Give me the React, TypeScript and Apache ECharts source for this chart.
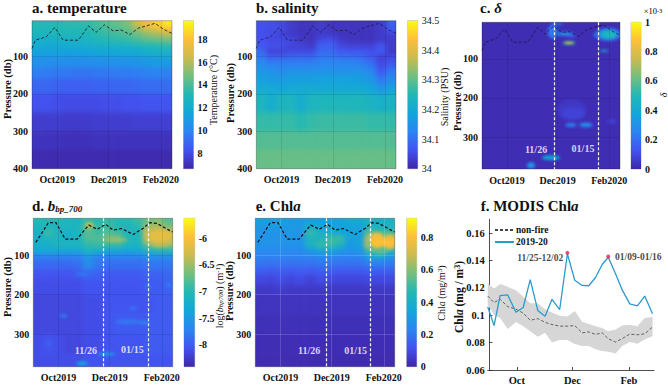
import React, { useEffect, useRef } from "react";
import * as echarts from "echarts";

const FONT = '"Liberation Serif", serif';
const days = [30, 91, 153];
const dayLabels = ["Oct2019", "Dec2019", "Feb2020"];
const fLabels = ["Oct", "Dec", "Feb"];
const pressureTicks = [100, 200, 300, 400];
const pressureTicksShort = [100, 200, 300];

const columnEdges = [0, 11.9, 23.7, 35.6, 47.4, 59.3, 71.1, 83, 94.9, 106.7, 118.6, 130.4, 142.3, 154.1, 166];

// mixed-layer depth (day since 1 Sep, pressure)
const mldDaysTop = [0, 4, 17, 27, 37, 55, 67, 76, 86, 96, 106, 116, 126, 146, 156, 166];
const mldTop = [79, 57, 48, 23, 57, 57, 19, 36, 16, 32, 30, 42, 25, 12, 28, 39];
const mldDaysBottom = [3, 10, 18, 27, 38, 52, 66, 76, 86, 95, 105, 119, 131, 139, 147, 166];
const mldBottom = [67, 44, 17, 17, 59, 59, 23, 34, 21, 36, 32, 47, 31, 17, 19, 41];

// a. temperature
const tempDepths = [5, 20, 35, 50, 65, 80, 100, 130, 160, 200, 250, 300, 350, 400];
const tempValues = [
  [13.2, 13.2, 13.2, 13.4, 13.4, 13.5, 13.9, 14.3, 14.6, 15.0, 16.5, 17.8, 18.5, 19.2],
  [13.0, 13.0, 13.1, 13.2, 13.2, 13.2, 13.6, 13.9, 14.1, 14.5, 15.5, 16.5, 17.2, 18.0],
  [12.7, 12.7, 12.8, 12.9, 12.9, 13.0, 13.3, 13.6, 13.9, 14.0, 14.6, 15.2, 15.6, 16.0],
  [12.2, 12.2, 12.3, 12.4, 12.4, 12.5, 12.9, 13.1, 13.3, 13.5, 13.8, 14.2, 14.4, 14.6],
  [11.9, 11.9, 11.9, 12.0, 12.0, 12.1, 12.3, 12.3, 12.4, 12.5, 12.8, 13.0, 13.2, 13.4],
  [11.3, 11.3, 11.3, 11.3, 11.3, 11.4, 11.5, 11.6, 11.7, 11.8, 11.9, 12.1, 12.3, 12.4],
  [10.5, 10.4, 10.4, 10.4, 10.3, 10.4, 10.4, 10.5, 10.5, 10.6, 10.7, 10.9, 11.0, 11.0],
  [9.7, 9.6, 9.5, 9.5, 9.4, 9.4, 9.5, 9.5, 9.6, 9.6, 9.7, 9.8, 9.9, 9.8],
  [8.9, 8.9, 8.8, 8.7, 8.7, 8.7, 8.8, 8.8, 8.9, 8.9, 9.0, 9.1, 9.1, 9.1],
  [8.2, 8.2, 8.1, 8.0, 8.0, 8.0, 8.0, 8.1, 8.1, 8.2, 8.2, 8.3, 8.3, 8.3],
  [7.5, 7.5, 7.5, 7.4, 7.4, 7.4, 7.5, 7.5, 7.5, 7.5, 7.6, 7.6, 7.6, 7.6],
  [7.1, 7.1, 7.1, 7.0, 7.0, 7.0, 7.1, 7.1, 7.1, 7.1, 7.1, 7.1, 7.1, 7.1],
  [6.8, 6.8, 6.8, 6.8, 6.8, 6.8, 6.8, 6.8, 6.8, 6.8, 6.8, 6.8, 6.8, 6.8],
];

// b. salinity
const salDepths = [5, 20, 35, 50, 65, 80, 95, 110, 130, 150, 175, 200, 250, 300, 350, 400];
const salValues = [
  [34.06, 34.055, 34.05, 34.03, 34.02, 34.02, 34.03, 34.02, 34.02, 34.02, 34.02, 34.02, 34.03, 34.08],
  [34.06, 34.055, 34.05, 34.03, 34.02, 34.02, 34.03, 34.02, 34.02, 34.02, 34.02, 34.02, 34.03, 34.07],
  [34.06, 34.05, 34.04, 34.03, 34.02, 34.02, 34.03, 34.03, 34.02, 34.02, 34.02, 34.02, 34.03, 34.04],
  [34.06, 34.05, 34.05, 34.05, 34.03, 34.02, 34.05, 34.06, 34.03, 34.02, 34.02, 34.02, 34.03, 34.03],
  [34.07, 34.06, 34.06, 34.04, 34.04, 34.03, 34.08, 34.08, 34.05, 34.04, 34.04, 34.04, 34.07, 34.03],
  [34.09, 34.04, 34.04, 34.05, 34.05, 34.05, 34.09, 34.09, 34.07, 34.07, 34.07, 34.06, 34.07, 34.03],
  [34.11, 34.08, 34.08, 34.09, 34.09, 34.09, 34.11, 34.11, 34.1, 34.1, 34.09, 34.07, 34.04, 34.05],
  [34.14, 34.12, 34.12, 34.12, 34.12, 34.12, 34.13, 34.13, 34.13, 34.13, 34.12, 34.1, 34.05, 34.07],
  [34.16, 34.15, 34.14, 34.15, 34.15, 34.15, 34.15, 34.15, 34.15, 34.15, 34.15, 34.13, 34.07, 34.11],
  [34.18, 34.17, 34.165, 34.175, 34.175, 34.175, 34.18, 34.18, 34.18, 34.18, 34.175, 34.16, 34.11, 34.14],
  [34.2, 34.2, 34.19, 34.2, 34.2, 34.2, 34.2, 34.2, 34.2, 34.2, 34.2, 34.19, 34.16, 34.18],
  [34.235, 34.21, 34.235, 34.235, 34.21, 34.235, 34.24, 34.24, 34.24, 34.24, 34.24, 34.23, 34.22, 34.23],
  [34.265, 34.265, 34.265, 34.265, 34.255, 34.265, 34.27, 34.27, 34.27, 34.27, 34.27, 34.265, 34.265, 34.265],
  [34.29, 34.29, 34.29, 34.29, 34.29, 34.29, 34.29, 34.29, 34.29, 34.29, 34.29, 34.29, 34.29, 34.29],
  [34.305, 34.305, 34.305, 34.305, 34.305, 34.305, 34.305, 34.305, 34.305, 34.305, 34.305, 34.305, 34.305, 34.305],
];

// c. delta: quiet background and patches [day, pressure, day radius, pressure radius, value]
const deltaBackground = [[0.02]];
const deltaPatches = [
  [108, 231, 18, 28, 0.05],
  [110, 240, 14, 16, 0.08],
  [156, 260, 6, 6, 0.07],
  [85, 30, 6, 17, 0.22],
  [90, 10, 8, 3, 0.22],
  [100, 36, 10, 5, 0.28],
  [108, 42, 6, 3, 0.16],
  [140, 38, 6, 8, 0.2],
  [152, 37, 16, 17, 0.18],
  [152, 37, 11, 13, 0.4],
  [153, 38, 7, 7, 0.5],
  [147, 79, 5, 2.5, 0.42],
  [104.6, 59, 8, 4, 0.5],
  [104.6, 59, 6, 2.2, 1.0],
  [107, 269, 7, 5, 0.25],
  [125, 269, 8, 6, 0.28],
  [83, 353, 11, 6, 0.38],
  [59, 373, 5, 8, 0.32],
];

// d. log backscatter
const bbpDepths = [6, 20, 35, 50, 65, 80, 95, 110, 135, 160, 200, 250, 300, 350, 383];
const bbpValues = [
  [-7.0, -7.0, -7.0, -7.1, -7.1, -6.9, -7.0, -6.9, -7.0, -7.0, -6.9, -6.7, -6.6, -6.8],
  [-7.1, -7.1, -7.1, -7.1, -7.1, -6.6, -6.9, -6.9, -7.0, -7.1, -7.0, -6.5, -6.4, -6.6],
  [-7.2, -6.9, -7.1, -7.2, -7.1, -6.8, -6.9, -6.8, -6.9, -7.1, -7.1, -6.2, -6.2, -6.3],
  [-7.2, -7.1, -7.1, -7.2, -7.1, -6.8, -6.8, -6.6, -6.6, -7.0, -7.1, -6.25, -6.2, -6.2],
  [-7.2, -7.2, -7.1, -7.1, -7.1, -6.95, -6.9, -6.9, -6.9, -7.1, -7.1, -6.7, -6.5, -6.5],
  [-7.3, -7.3, -7.3, -7.3, -7.3, -7.1, -7.2, -7.3, -7.3, -7.3, -7.3, -7.1, -7.0, -7.0],
  [-7.7, -7.7, -7.7, -7.7, -7.7, -7.5, -7.7, -7.7, -7.7, -7.7, -7.7, -7.6, -7.6, -7.6],
  [-7.9, -7.9, -7.9, -7.9, -7.85, -7.6, -7.8, -7.85, -7.85, -7.85, -7.85, -7.8, -7.8, -7.8],
  [-8.05, -8.05, -8.05, -8.05, -8.0, -7.9, -7.95, -8.0, -8.0, -8.0, -8.0, -7.95, -7.95, -7.9],
  [-8.1, -8.1, -8.1, -8.1, -8.1, -8.05, -8.05, -8.05, -8.05, -8.05, -8.05, -8.0, -8.0, -7.95],
  [-8.15, -8.15, -8.15, -8.15, -8.15, -8.1, -8.1, -8.05, -8.05, -8.05, -8.05, -8.05, -8.0, -8.0],
  [-8.15, -8.15, -8.15, -8.15, -8.15, -8.1, -8.1, -8.05, -8.0, -8.0, -8.0, -8.0, -8.0, -8.0],
  [-8.1, -8.05, -8.1, -8.15, -8.15, -8.1, -8.1, -8.05, -8.05, -8.05, -8.05, -8.0, -8.0, -8.0],
  [-8.1, -8.1, -8.1, -8.1, -8.1, -8.05, -8.05, -8.05, -8.05, -8.05, -8.05, -8.05, -8.05, -8.05],
];
const bbpPatches = [
  [151, 55, 17, 24, -6.4],
  [151, 52, 14, 16, -6.15],
  [67, 23, 4, 5, -6.05],
  [99, 61, 14, 4, -6.5],
  [57.6, 148, 7, 4, -7.8],
  [36, 254, 5, 4, -7.75],
  [18, 324, 4, 3, -7.85],
  [113, 269, 15, 6, -7.8],
  [131, 271, 8, 5, -7.75],
  [119, 235, 5, 4, -7.8],
  [137, 180, 5, 4, -7.8],
  [161, 175, 4, 4, -7.7],
  [87, 351, 11, 4, -7.45],
  [58, 375, 7, 6, -7.45],
];

// e. Chla
const chlDepths = [6, 20, 35, 50, 65, 80, 95, 110, 130, 150, 175, 200, 250, 300, 350, 383];
const chlValues = [
  [0.32, 0.33, 0.33, 0.3, 0.3, 0.33, 0.32, 0.33, 0.33, 0.38, 0.38, 0.42, 0.4, 0.42],
  [0.3, 0.3, 0.3, 0.3, 0.3, 0.38, 0.34, 0.34, 0.33, 0.33, 0.33, 0.42, 0.42, 0.42],
  [0.28, 0.28, 0.28, 0.3, 0.28, 0.5, 0.42, 0.4, 0.35, 0.33, 0.33, 0.55, 0.5, 0.5],
  [0.28, 0.28, 0.28, 0.28, 0.28, 0.42, 0.42, 0.5, 0.5, 0.33, 0.33, 0.72, 0.62, 0.7],
  [0.28, 0.28, 0.28, 0.28, 0.28, 0.42, 0.5, 0.5, 0.45, 0.3, 0.33, 0.78, 0.74, 0.76],
  [0.25, 0.25, 0.25, 0.25, 0.25, 0.3, 0.35, 0.35, 0.3, 0.28, 0.3, 0.5, 0.55, 0.45],
  [0.23, 0.23, 0.23, 0.23, 0.23, 0.24, 0.25, 0.25, 0.24, 0.23, 0.24, 0.35, 0.4, 0.3],
  [0.2, 0.19, 0.19, 0.19, 0.19, 0.19, 0.2, 0.2, 0.19, 0.19, 0.19, 0.22, 0.23, 0.21],
  [0.14, 0.13, 0.14, 0.13, 0.14, 0.13, 0.14, 0.14, 0.13, 0.13, 0.13, 0.14, 0.14, 0.14],
  [0.09, 0.08, 0.1, 0.08, 0.1, 0.07, 0.1, 0.09, 0.08, 0.08, 0.08, 0.09, 0.09, 0.09],
  [0.05, 0.05, 0.06, 0.05, 0.05, 0.05, 0.05, 0.05, 0.05, 0.05, 0.05, 0.05, 0.05, 0.05],
  [0.035, 0.035, 0.035, 0.035, 0.035, 0.035, 0.035, 0.035, 0.035, 0.035, 0.035, 0.035, 0.035, 0.035],
  [0.025, 0.025, 0.025, 0.025, 0.025, 0.025, 0.025, 0.025, 0.025, 0.025, 0.025, 0.025, 0.025, 0.025],
  [0.02, 0.02, 0.02, 0.02, 0.02, 0.02, 0.02, 0.02, 0.02, 0.02, 0.02, 0.02, 0.02, 0.02],
  [0.015, 0.015, 0.015, 0.015, 0.015, 0.015, 0.015, 0.015, 0.015, 0.015, 0.015, 0.015, 0.015, 0.015],
];
const chlPatches = [
  [150, 68, 17, 26, 0.55],
  [145, 62, 9, 20, 0.78],
  [160, 66, 8, 18, 0.76],
  [152, 68, 15, 9, 0.8],
];

// f. MODIS Chla
const fireDays = [-2, 5, 11.6, 20, 29, 37, 44.7, 53, 61, 68.6, 77, 85.5, 93.6, 101.7, 109, 116.4, 123.7, 130.4, 138.4, 145.8, 154, 162.3, 170.4, 179];
const fire = [0.1062, 0.0924, 0.1143, 0.1148, 0.1022, 0.1056, 0.126, 0.1035, 0.0992, 0.1116, 0.104, 0.1448, 0.1255, 0.1217, 0.1215, 0.1275, 0.137, 0.1423, 0.1303, 0.1183, 0.1083, 0.1068, 0.114, 0.101];
const nonFire = [0.114, 0.1092, 0.1116, 0.1063, 0.1044, 0.1015, 0.0963, 0.0975, 0.0948, 0.0932, 0.092, 0.092, 0.0924, 0.0871, 0.0878, 0.086, 0.0871, 0.0828, 0.0804, 0.083, 0.0862, 0.0857, 0.0864, 0.0914];
const bandUpper = [0.1231, 0.1195, 0.1227, 0.1207, 0.1183, 0.1135, 0.1087, 0.1087, 0.1044, 0.102, 0.0996, 0.0991, 0.103, 0.0953, 0.0936, 0.092, 0.0907, 0.0883, 0.0895, 0.0924, 0.0931, 0.092, 0.0979, 0.0987];
const bandLower = [0.1075, 0.1003, 0.0979, 0.09, 0.0951, 0.092, 0.0883, 0.0842, 0.0871, 0.08, 0.0819, 0.0819, 0.079, 0.0776, 0.0776, 0.0751, 0.0739, 0.0734, 0.072, 0.0776, 0.0804, 0.0792, 0.0823, 0.0847];
const peaks = [[85.5, 0.1455], [130.4, 0.1428]];
const peakLabels = [[55.7, 0.1416, "11/25-12/02"], [163.4, 0.1428, "01/09-01/16"]];
const fTicks = [0.06, 0.08, 0.1, 0.12, 0.14, 0.16];

const parula = ["#3e26a8", "#4352f0", "#2c84f2", "#12a6da", "#20b8b5", "#71bf80", "#cbbb4f", "#fdbf38", "#f9fb14"];

function hex(c: string) {
  return [1, 3, 5].map((i) => parseInt(c.slice(i, i + 2), 16));
}
function colorOf(t: number) {
  const u = Math.max(0, Math.min(0.9999, t)) * (parula.length - 1);
  const i = Math.floor(u);
  const f = u - i;
  const a = hex(parula[i]);
  const b = hex(parula[i + 1]);
  return `rgb(${a.map((v, k) => Math.round(v + (b[k] - v) * f)).join(",")})`;
}

const plots = [
  { left: 32, top: 20.7, width: 140, height: 148 },
  { left: 256.3, top: 20.7, width: 139.7, height: 148 },
  { left: 482, top: 22.3, width: 138, height: 146.7 },
  { left: 33.3, top: 218.3, width: 139.4, height: 148.4 },
  { left: 255.3, top: 218.3, width: 139.4, height: 148.4 },
];
const plotF = { left: 487.7, top: 219.3, width: 166.3, height: 151.7 };
const bars = [
  { left: 183.5, top: 20.7, width: 10, height: 148 },
  { left: 407.7, top: 20.7, width: 10, height: 148 },
  { left: 631, top: 22.3, width: 10, height: 146.7 },
  { left: 184, top: 218.3, width: 10.7, height: 148.4 },
  { left: 406.7, top: 218.3, width: 10, height: 148.4 },
];
const panels = [
  { yMin: 5, yMax: 400, vMin: 6.62, vMax: 19.64, ticks: [8, 10, 12, 14, 16, 18], ySet: pressureTicks, barWeight: "bold" },
  { yMin: 5, yMax: 400, vMin: 34, vMax: 34.5, ticks: [34, 34.1, 34.2, 34.3, 34.4, 34.5], ySet: pressureTicks, barWeight: "normal" },
  { yMin: 6, yMax: 382, vMin: 0, vMax: 1, ticks: [0, 0.2, 0.4, 0.6, 0.8, 1], ySet: pressureTicksShort, barWeight: "bold" },
  { yMin: 6, yMax: 383, vMin: -8.41, vMax: -5.625, ticks: [-8, -7.5, -7, -6.5, -6], ySet: pressureTicksShort, barWeight: "bold" },
  { yMin: 6, yMax: 383, vMin: 0, vMax: 0.92, ticks: [0, 0.2, 0.4, 0.6, 0.8], ySet: pressureTicksShort, barWeight: "bold" },
];
const fields: any[] = [
  { xs: columnEdges, ys: tempDepths, vals: tempValues },
  { xs: columnEdges, ys: salDepths, vals: salValues },
  { xs: [0, 166], ys: [6, 382], vals: deltaBackground },
  { xs: columnEdges, ys: bbpDepths, vals: bbpValues },
  { xs: columnEdges, ys: chlDepths, vals: chlValues },
];
const patchSets: any[] = [[], [], deltaPatches, bbpPatches, chlPatches];

function cells(f: any) {
  const out: number[][] = [];
  const n = f.xs.length - 1;
  const m = f.ys.length - 1;
  for (let r = 0; r < m; r++) {
    for (let c = 0; c < n; c++) {
      out.push([
        c === 0 ? f.xs[0] - 15 : f.xs[c],
        c === n - 1 ? f.xs[n] + 15 : f.xs[c + 1],
        r === 0 ? f.ys[0] - 40 : f.ys[r],
        r === m - 1 ? f.ys[m] + 40 : f.ys[r + 1],
        f.vals[r][c],
      ]);
    }
  }
  return out;
}

function layerBase() {
  return {
    animation: false,
    grid: plots.map((p) => ({ ...p, show: false })),
    xAxis: plots.map((_, i) => ({ type: "value", gridIndex: i, min: 0, max: 166, show: false })),
    yAxis: panels.map((p, i) => ({ type: "value", gridIndex: i, min: p.yMin, max: p.yMax, inverse: true, show: false })),
  };
}

function heatOption() {
  return {
    ...layerBase(),
    series: panels.map((p, i) => ({
      type: "custom",
      xAxisIndex: i,
      yAxisIndex: i,
      silent: true,
      clip: false,
      encode: { x: [0, 1], y: [2, 3] },
      data: cells(fields[i]),
      renderItem: (_: any, api: any) => {
        const a = api.coord([api.value(0), api.value(2)]);
        const b = api.coord([api.value(1), api.value(3)]);
        return {
          type: "rect",
          shape: { x: a[0], y: a[1], width: b[0] - a[0] + 0.6, height: b[1] - a[1] + 0.6 },
          style: { fill: colorOf((api.value(4) - p.vMin) / (p.vMax - p.vMin)) },
        };
      },
    })),
  };
}

function patchOption() {
  return {
    ...layerBase(),
    series: panels.map((p, i) => ({
      type: "custom",
      xAxisIndex: i,
      yAxisIndex: i,
      silent: true,
      clip: false,
      encode: { x: 0, y: 1 },
      data: patchSets[i],
      renderItem: (_: any, api: any) => {
        const c = api.coord([api.value(0), api.value(1)]);
        const e = api.coord([api.value(0) + api.value(2), api.value(1) + api.value(3)]);
        return {
          type: "ellipse",
          shape: { cx: c[0], cy: c[1], rx: Math.abs(e[0] - c[0]), ry: Math.abs(e[1] - c[1]) },
          style: { fill: colorOf((api.value(4) - p.vMin) / (p.vMax - p.vMin)) },
        };
      },
    })),
  };
}

const serifBold = { fontFamily: FONT, fontWeight: "bold" as const, color: "#111" };
const titleRich = {
  b: { ...serifBold, fontSize: 15 },
  i: { ...serifBold, fontSize: 15, fontStyle: "italic" as const },
  s: { ...serifBold, fontSize: 9, fontStyle: "italic" as const, verticalAlign: "bottom" as const, padding: [6, 0, 0, 0] },
};
const titleItems = [
  [32, 0, "{b|a. temperature}"],
  [256, 0, "{b|b. salinity}"],
  [480, 0, "{b|c. }{i|δ}"],
  [32, 198, "{b|d. }{i|b}{s|bp_700}"],
  [255.7, 198, "{b|e. Chl}{i|a}"],
  [480.7, 198, "{b|f. MODIS Chl}{i|a}"],
];

const vertical = (text: string, x: number, y: number, font: string, rich?: any) => ({
  type: "text",
  x,
  y,
  rotation: Math.PI / 2,
  silent: true,
  style: { text, font, fill: "#111", align: "center", verticalAlign: "middle", rich },
});

const nameRich = {
  n: { fontFamily: FONT, fontSize: 10, color: "#111" },
  i: { fontFamily: FONT, fontSize: 10, fontStyle: "italic", color: "#111" },
  s: { fontFamily: FONT, fontSize: 7, fontStyle: "italic", color: "#111", verticalAlign: "bottom" },
  u: { fontFamily: FONT, fontSize: 7, color: "#111", verticalAlign: "top" },
};

function overlayOption() {
  const marks = [
    { lines: [], grid: "rgba(0,0,0,0.12)" },
    { lines: [], grid: "rgba(0,0,0,0.12)" },
    { lines: [87, 140], grid: "rgba(0,0,0,0.1)" },
    { lines: [83.8, 136.6], grid: "rgba(0,0,0,0.12)" },
    { lines: [84, 137], grid: "rgba(255,255,255,0.2)" },
  ];
  const eventLabels: any[] = [
    [],
    [],
    [[65, 331, "11/26"], [121.5, 329, "01/15"]],
    [[62.7, 341, "11/26"], [118, 339, "01/15"]],
    [[64, 343, "11/26"], [119.5, 341, "01/15"]],
  ];
  const grids: any[] = [
    ...plots.map((p) => ({ ...p, show: true, borderColor: "rgba(30,30,30,0.55)", borderWidth: 0.6, backgroundColor: "transparent" })),
    { ...plotF, show: false },
    ...bars.map((p) => ({ ...p, show: true, borderColor: "rgba(30,30,30,0.5)", borderWidth: 0.5, backgroundColor: "transparent" })),
  ];
  const xAxis: any[] = [
    ...plots.map((_, i) => ({
      type: "value", gridIndex: i, min: 0, max: 166,
      axisLine: { show: false }, splitLine: { show: false }, axisTick: { show: false },
      axisLabel: {
        customValues: days, margin: 6, fontFamily: FONT, fontWeight: "bold", fontSize: 10, color: "#111",
        formatter: (v: number) => dayLabels[days.indexOf(v)],
      },
    })),
    {
      type: "value", gridIndex: 5, min: -2, max: 180.6, splitLine: { show: false },
      axisLine: { show: true, lineStyle: { color: "#222", width: 0.8 } },
      axisTick: { show: true, inside: true, length: 3, customValues: days, lineStyle: { color: "#222", width: 0.8 } },
      axisLabel: {
        customValues: days, margin: 5, fontFamily: FONT, fontWeight: "bold", fontSize: 10.5, color: "#111",
        formatter: (v: number) => fLabels[days.indexOf(v)],
      },
    },
    ...bars.map((_, i) => ({ type: "value", gridIndex: 6 + i, min: 0, max: 1, show: false })),
  ];
  const yAxis: any[] = [
    ...panels.map((p, i) => ({
      type: "value", gridIndex: i, min: p.yMin, max: p.yMax, inverse: true,
      axisLine: { show: false }, splitLine: { show: false }, axisTick: { show: false },
      axisLabel: { customValues: p.ySet, margin: 4, fontFamily: FONT, fontWeight: "bold", fontSize: 10, color: "#111" },
    })),
    {
      type: "value", gridIndex: 5, min: 0.06, max: 0.17, splitLine: { show: false },
      axisLine: { show: true, lineStyle: { color: "#222", width: 0.8 } },
      axisTick: { show: true, inside: true, length: 3, customValues: fTicks, lineStyle: { color: "#222", width: 0.8 } },
      axisLabel: {
        customValues: fTicks, margin: 3, fontFamily: FONT, fontWeight: "bold", fontSize: 10.5, color: "#111",
        formatter: (v: number) => String(Number(v.toFixed(2))),
      },
    },
    ...panels.map((p, i) => ({
      type: "value", gridIndex: 6 + i, min: p.vMin, max: p.vMax, position: "right",
      axisLine: { show: false }, splitLine: { show: false },
      axisTick: { show: false },
      axisLabel: {
        customValues: p.ticks, margin: 4, fontFamily: FONT, fontWeight: p.barWeight,
        fontSize: 10, color: "#111",
        formatter: (v: number) => String(Number(v.toFixed(2))),
      },
    })),
  ];

  const series: any[] = [];
  panels.forEach((p, i) => {
    const top = i < 3;
    const white = marks[i].lines.map((v: number) => ({
      xAxis: v, lineStyle: { color: "#fff", type: [3, 2], width: 1.2 },
    }));
    const gridLines = [
      ...days.map((d) => ({ xAxis: d, lineStyle: { color: marks[i].grid, type: "solid", width: 0.8 } })),
      ...p.ySet.filter((v) => v < p.yMax).map((v) => ({ yAxis: v, lineStyle: { color: marks[i].grid, type: "solid", width: 0.8 } })),
    ];
    const xs = top ? mldDaysTop : mldDaysBottom;
    const ys = top ? mldTop : mldBottom;
    series.push({
      type: "line", xAxisIndex: i, yAxisIndex: i, silent: true, symbol: "none",
      data: xs.map((d, k) => [d, ys[k]]),
      lineStyle: { color: "#111", width: top ? 0.9 : 1.2, type: [3, 2], opacity: i === 0 ? 0.9 : top ? 0.65 : 1 },
      z: 5,
      markLine: { silent: true, symbol: "none", label: { show: false }, data: [...gridLines, ...white] },
    });
    if (eventLabels[i].length) {
      series.push({
        type: "scatter", xAxisIndex: i, yAxisIndex: i, silent: true, symbolSize: 0,
        data: eventLabels[i], z: 6,
        label: {
          show: true, position: "inside", color: "#fff", fontFamily: FONT, fontWeight: "bold", fontSize: 10,
          formatter: (q: any) => q.data[2],
        },
      });
    }
    series.push({
      type: "custom", xAxisIndex: 6 + i, yAxisIndex: 6 + i, silent: true,
      data: [[0, p.vMax, 1, p.vMin]],
      encode: { x: [0, 2], y: [1, 3] },
      renderItem: (_: any, api: any) => {
        const a = api.coord([api.value(0), api.value(1)]);
        const b = api.coord([api.value(2), api.value(3)]);
        return {
          type: "rect",
          shape: { x: a[0], y: a[1], width: b[0] - a[0], height: b[1] - a[1] },
          style: {
            fill: new echarts.graphic.LinearGradient(0, 1, 0, 0, parula.map((c, k) => ({ offset: k / (parula.length - 1), color: c }))),
          },
        };
      },
    });
  });

  const bandRows = fireDays.map((d, k) => [d, bandUpper[k], bandLower[k]]);
  series.push(
    {
      type: "custom", xAxisIndex: 5, yAxisIndex: 5, silent: true, encode: { x: 0, y: [1, 2] },
      data: bandRows, z: 1,
      renderItem: (q: any, api: any) => {
        if (q.dataIndex !== 0) return null;
        const up = bandRows.map((r) => api.coord([r[0], r[1]]));
        const low = bandRows.map((r) => api.coord([r[0], r[2]])).reverse();
        return { type: "polygon", shape: { points: [...up, ...low] }, style: { fill: "#d6d6d6" } };
      },
    },
    {
      name: "non-fire", type: "line", xAxisIndex: 5, yAxisIndex: 5, silent: true, symbol: "none", z: 3,
      data: fireDays.map((d, k) => [d, nonFire[k]]),
      lineStyle: { color: "#444", width: 0.8, type: [3, 2] },
      itemStyle: { color: "#444" },
    },
    {
      name: "2019-20", type: "line", xAxisIndex: 5, yAxisIndex: 5, silent: true, symbol: "none", z: 4,
      data: fireDays.map((d, k) => [d, fire[k]]),
      lineStyle: { color: "#2a9bcb", width: 1.3 },
      itemStyle: { color: "#2a9bcb" },
    },
    {
      type: "scatter", xAxisIndex: 5, yAxisIndex: 5, silent: true, symbolSize: 4, z: 5,
      data: peaks, itemStyle: { color: "#e2234f" },
    },
    {
      type: "scatter", xAxisIndex: 5, yAxisIndex: 5, silent: true, symbolSize: 0, z: 6,
      data: peakLabels,
      label: {
        show: true, position: "inside", color: "#111", fontFamily: FONT, fontWeight: "bold", fontSize: 9.5,
        formatter: (q: any) => q.data[2],
      },
    }
  );

  const pressFont = `bold 10.5px ${FONT}`;
  return {
    animation: false,
    backgroundColor: "transparent",
    title: titleItems.map(([left, top, text]) => ({
      left, top, text, padding: 0,
      textStyle: { ...titleRich.b, rich: titleRich },
    })),
    legend: {
      data: ["non-fire", "2019-20"], orient: "vertical", left: 494, top: 225,
      itemWidth: 19, itemHeight: 9, itemGap: 2, padding: 0,
      itemStyle: { opacity: 0 },
      textStyle: { fontFamily: FONT, fontWeight: "bold", fontSize: 9.5, color: "#111", padding: [0, 0, 0, -3] },
    },
    grid: grids,
    xAxis,
    yAxis,
    series,
    graphic: [
      vertical("Pressure (db)", 7, 89, pressFont),
      vertical("Pressure (db)", 230, 93, pressFont),
      vertical("Pressure (db)", 457, 101, pressFont),
      vertical("Pressure (db)", 7, 287, pressFont),
      vertical("Pressure (db)", 229, 291, pressFont),
      vertical("Temperature (°C)", 213, 90, `10px ${FONT}`),
      vertical("Salinity (PSU)", 444, 97, `10px ${FONT}`),
      vertical("{i|δ}", 663, 95, `10px ${FONT}`, nameRich),
      vertical("{n|log(}{i|b}{s|bp700}{n|) (m}{u|-1}{n|)}", 219, 296, `10px ${FONT}`, nameRich),
      vertical("{n|Chl}{i|a}{n| (mg/m}{u|3}{n|)}", 441, 293, `10px ${FONT}`, nameRich),
      vertical("{b|Chl}{c|a}{b| (mg / m}{d|3}{b|)}", 459, 297, `bold 11.5px ${FONT}`, {
        b: { fontFamily: FONT, fontSize: 11.5, fontWeight: "bold", color: "#111" },
        c: { fontFamily: FONT, fontSize: 11.5, fontWeight: "bold", fontStyle: "italic", color: "#111" },
        d: { fontFamily: FONT, fontSize: 8, fontWeight: "bold", color: "#111", verticalAlign: "top" },
      }),
      {
        type: "text", x: 653, y: 11, silent: true,
        style: {
          text: "{a|×10}{b|-3}", align: "center", verticalAlign: "middle",
          rich: {
            a: { fontFamily: FONT, fontSize: 8.5, color: "#111" },
            b: { fontFamily: FONT, fontSize: 6.5, color: "#111", verticalAlign: "top" },
          },
        },
      },
    ],
  };
}

const clip = `path("${plots.map((p) => `M${p.left} ${p.top}H${p.left + p.width}V${p.top + p.height}H${p.left}Z`).join(" ")}")`;
const layer: React.CSSProperties = { position: "absolute", left: 0, top: 0, width: 668, height: 386 };

export default function App() {
  const heat = useRef<HTMLDivElement>(null);
  const patch = useRef<HTMLDivElement>(null);
  const over = useRef<HTMLDivElement>(null);
  useEffect(() => {
    document.body.style.margin = "0";
    const charts = [
      echarts.init(heat.current!, undefined, { renderer: "svg" }),
      echarts.init(patch.current!, undefined, { renderer: "svg" }),
      echarts.init(over.current!, undefined, { renderer: "svg" }),
    ];
    charts[0].setOption(heatOption() as any);
    charts[1].setOption(patchOption() as any);
    charts[2].setOption(overlayOption() as any);
    return () => charts.forEach((c) => c.dispose());
  }, []);
  return (
    <div style={{ ...layer, overflow: "hidden", background: "#fff" }}>
      <div ref={heat} style={{ ...layer, filter: "blur(2.6px)", clipPath: clip }} />
      <div ref={patch} style={{ ...layer, filter: "blur(1.6px)", clipPath: clip }} />
      <div ref={over} style={layer} />
    </div>
  );
}
